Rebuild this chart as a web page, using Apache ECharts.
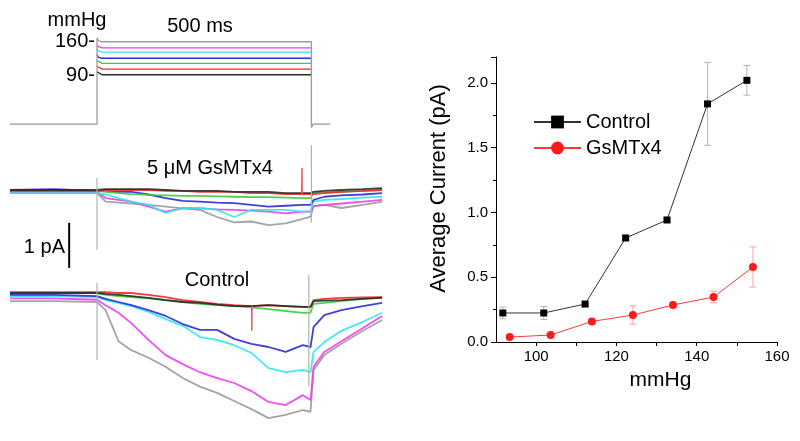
<!DOCTYPE html>
<html>
<head>
<meta charset="utf-8">
<script src="https://cdn.jsdelivr.net/npm/echarts@6/dist/echarts.min.js"></script>
<style>html,body{margin:0;padding:0;background:#fff}#c{width:800px;height:441px}</style>
</head>
<body>
<div id="c"></div>
<script>
// ---------- Right chart data ----------
const ctrlX = [91.7, 101.9, 112.2, 122.3, 132.6, 142.7, 152.5];
const ctrlY = [0.224, 0.224, 0.293, 0.803, 0.942, 1.838, 2.02];
const ctrlErr = [0.045, 0.05, 0.02, 0.02, 0.02, 0.32, 0.115];
const gsX = [93.4, 103.6, 113.9, 124.1, 134.1, 144.2, 154.0];
const gsY = [0.038, 0.054, 0.159, 0.208, 0.286, 0.347, 0.579];
const gsErr = [0.01, 0.01, 0.02, 0.07, 0.02, 0.045, 0.155];
const xTicks = [100, 110, 120, 130, 140, 150, 160];
const xLabels = [100, 120, 140, 160];

// ---------- Pressure protocol (mmHg) ----------
const protoNames = ['black', 'red', 'green', 'blue', 'cyan', 'magenta', 'gray'];
const protoLevels = [90, 102, 114, 125, 138, 147, 160];
const protoOvershoot = [6, 6, 6, 7, 7, 7, 8];
const protoBaseline = -15;
const protoUndershoot = -22;

// ---------- Current traces (time ms, current pA) ----------
const tMs = [-203, -100, 0, 20, 50, 80, 120, 160, 200, 240, 280, 320, 360, 400, 440, 480, 498, 505, 530, 570, 620, 665];
const gsTraces = {
  gray:    [-0.07,-0.07,-0.07,-0.26,-0.28,-0.30,-0.33,-0.37,-0.41,-0.44,-0.60,-0.72,-0.70,-0.78,-0.74,-0.64,-0.59,-0.36,-0.33,-0.40,-0.33,-0.26],
  magenta: [-0.04,-0.04,-0.04,-0.18,-0.22,-0.26,-0.37,-0.48,-0.41,-0.41,-0.43,-0.44,-0.46,-0.48,-0.52,-0.48,-0.48,-0.36,-0.33,-0.30,-0.26,-0.22],
  cyan:    [-0.07,-0.07,-0.07,-0.10,-0.18,-0.26,-0.33,-0.51,-0.40,-0.40,-0.44,-0.60,-0.44,-0.44,-0.44,-0.48,-0.48,-0.26,-0.22,-0.20,-0.17,-0.15],
  blue:    [0.00,0.02,-0.02,-0.02,-0.04,-0.04,-0.10,-0.18,-0.24,-0.26,-0.28,-0.29,-0.33,-0.37,-0.35,-0.33,-0.33,-0.22,-0.15,-0.12,-0.10,-0.07],
  green:   [-0.02,-0.02,-0.02,-0.04,-0.07,-0.09,-0.11,-0.12,-0.13,-0.13,-0.14,-0.15,-0.16,-0.16,-0.17,-0.18,-0.18,-0.07,-0.06,-0.04,-0.02,0.00],
  red:     [-0.02,-0.02,-0.02,0.00,0.00,0.00,0.00,-0.02,-0.02,-0.04,-0.04,-0.04,-0.07,-0.07,-0.09,-0.09,-0.09,-0.09,-0.07,-0.04,-0.02,0.00],
  black:   [0.00,0.00,0.00,0.02,0.02,0.02,0.02,0.00,-0.02,-0.02,-0.02,-0.04,-0.04,-0.04,-0.07,-0.07,-0.07,-0.04,-0.02,0.00,0.02,0.04]
};
const ctrlTraces = {
  gray:    [-0.18,-0.18,-0.20,-0.38,-1.07,-1.27,-1.44,-1.64,-1.89,-2.08,-2.22,-2.40,-2.58,-2.78,-2.71,-2.60,-2.64,-1.71,-1.38,-1.13,-0.84,-0.60],
  magenta: [-0.12,-0.12,-0.15,-0.27,-0.44,-0.67,-1.04,-1.38,-1.58,-1.76,-1.89,-2.00,-2.18,-2.42,-2.49,-2.27,-2.38,-1.64,-1.31,-1.07,-0.78,-0.51],
  cyan:    [-0.07,-0.07,-0.09,-0.16,-0.22,-0.29,-0.42,-0.58,-0.73,-0.98,-1.04,-1.16,-1.33,-1.67,-1.76,-1.71,-1.76,-1.31,-1.09,-0.84,-0.64,-0.44],
  blue:    [-0.04,-0.04,-0.07,-0.13,-0.20,-0.27,-0.38,-0.51,-0.69,-0.82,-0.82,-1.02,-1.13,-1.20,-1.31,-1.16,-1.20,-0.76,-0.49,-0.38,-0.29,-0.22],
  green:   [0.00,0.00,0.00,-0.04,-0.07,-0.09,-0.12,-0.16,-0.20,-0.24,-0.27,-0.29,-0.32,-0.36,-0.40,-0.44,-0.44,-0.24,-0.22,-0.18,-0.13,-0.09],
  red:     [0.02,0.02,0.02,0.02,0.00,0.00,-0.04,-0.09,-0.16,-0.20,-0.24,-0.27,-0.29,-0.27,-0.29,-0.31,-0.31,-0.16,-0.13,-0.11,-0.10,-0.09],
  black:   [0.00,0.00,0.00,-0.02,-0.04,-0.07,-0.11,-0.16,-0.20,-0.22,-0.26,-0.29,-0.29,-0.27,-0.29,-0.31,-0.31,-0.18,-0.17,-0.16,-0.13,-0.11]
};
// stimulus artifacts [time, top, bottom]
const gsArtifacts = [[0, 0.27, -1.33], [500, 1.0, -0.73]];
const ctrlArtifacts = [[0, 0.22, -1.49], [494, 0.4, -2.08]];
// isolated spikes [time, base, tip]
const gsRedSpike = [478, -0.09, 0.49];
const ctrlRedSpike = [361, -0.29, -0.84];
// scale bar (1 pA)
const scaleBarT = -65;
const scaleBarPA = [-0.73, -1.73];

// ---------- styles ----------
const traceColor = {
  gray: '#9a9a9a', magenta: '#f03cf0', cyan: '#30e6ee', blue: '#2b2bd6',
  green: '#3ccc3c', red: '#f02a2a', black: '#2a2a2a'
};
const drawOrder = ['gray', 'magenta', 'cyan', 'blue', 'green', 'red', 'black'];
const FONT = 'Arial, "Liberation Sans", Helvetica, sans-serif';

const series = [];
// Protocol traces: colored levels only during the pulse; gray carries the full shape
protoNames.forEach((nm, i) => {
  const L = protoLevels[i];
  const pulse = [[0, L + protoOvershoot[i]], [4, L + 2], [12, L], [500, L]];
  const data = nm === 'gray'
    ? [[-203, protoBaseline], [0, protoBaseline]].concat(pulse, [[500, protoUndershoot], [504, protoBaseline], [544, protoBaseline]])
    : pulse;
  series.push({
    type: 'line', xAxisIndex: 0, yAxisIndex: 0, symbol: 'none', silent: true,
    z: nm === 'gray' ? 5 : 3,
    lineStyle: { color: traceColor[nm], width: 1.3 },
    data
  });
});

function addTraces(traces, gi) {
  drawOrder.forEach((nm) => {
    series.push({
      type: 'line', xAxisIndex: gi, yAxisIndex: gi, symbol: 'none', silent: true,
      lineStyle: { color: traceColor[nm], width: 1.8, opacity: 0.9 },
      data: tMs.map((t, k) => [t, traces[nm][k]])
    });
  });
}
addTraces(gsTraces, 1);
addTraces(ctrlTraces, 2);

function addArtifacts(arts, gi) {
  arts.forEach((a) => {
    series.push({
      type: 'line', xAxisIndex: gi, yAxisIndex: gi, symbol: 'none', silent: true, z: 4,
      lineStyle: { color: '#a8b8a8', width: 1.2 },
      data: [[a[0], a[1]], [a[0], a[2]]]
    });
  });
}
addArtifacts(gsArtifacts, 1);
addArtifacts(ctrlArtifacts, 2);

[[gsRedSpike, 1], [ctrlRedSpike, 2]].forEach(([s, gi]) => {
  series.push({
    type: 'line', xAxisIndex: gi, yAxisIndex: gi, symbol: 'none', silent: true, z: 4,
    lineStyle: { color: '#f05050', width: 1 },
    data: [[s[0] - 1, s[1]], [s[0], s[2]], [s[0] + 1, s[1]]]
  });
});

series.push({
  type: 'line', xAxisIndex: 1, yAxisIndex: 1, symbol: 'none', silent: true,
  lineStyle: { color: '#000', width: 2 },
  data: [[scaleBarT, scaleBarPA[0]], [scaleBarT, scaleBarPA[1]]]
});

// Error bars
function errRender(color) {
  return function (params, api) {
    const x = api.value(0), lo = api.value(1), hi = api.value(2);
    const p1 = api.coord([x, hi]), p2 = api.coord([x, lo]);
    const w = 3.5;
    const st = { stroke: color, lineWidth: 1 };
    return {
      type: 'group', children: [
        { type: 'line', shape: { x1: p1[0], y1: p1[1], x2: p2[0], y2: p2[1] }, style: st },
        { type: 'line', shape: { x1: p1[0] - w, y1: p1[1], x2: p1[0] + w, y2: p1[1] }, style: st },
        { type: 'line', shape: { x1: p2[0] - w, y1: p2[1], x2: p2[0] + w, y2: p2[1] }, style: st }
      ]
    };
  };
}
series.push({
  type: 'custom', name: 'ctrlErr', xAxisIndex: 3, yAxisIndex: 3, z: 1, silent: true,
  renderItem: errRender('#b4b4b4'), encode: { x: 0, y: [1, 2] },
  data: ctrlX.map((x, i) => [x, ctrlY[i] - ctrlErr[i], ctrlY[i] + ctrlErr[i]])
});
series.push({
  type: 'custom', name: 'gsErr', xAxisIndex: 3, yAxisIndex: 3, z: 1, silent: true,
  renderItem: errRender('#ffa0a0'), encode: { x: 0, y: [1, 2] },
  data: gsX.map((x, i) => [x, gsY[i] - gsErr[i], gsY[i] + gsErr[i]])
});
series.push({
  type: 'line', name: 'Control', xAxisIndex: 3, yAxisIndex: 3, z: 3,
  symbol: 'rect', symbolSize: 7, showAllSymbol: true,
  lineStyle: { color: '#333', width: 1 }, itemStyle: { color: '#000' },
  data: ctrlX.map((x, i) => [x, ctrlY[i]])
});
series.push({
  type: 'line', name: 'GsMTx4', xAxisIndex: 3, yAxisIndex: 3, z: 3,
  symbol: 'circle', symbolSize: 8, showAllSymbol: true,
  lineStyle: { color: '#ff3a3a', width: 1 }, itemStyle: { color: '#ff1a1a' },
  data: gsX.map((x, i) => [x, gsY[i]])
});

const hiddenX = (min, max, gi) => ({ type: 'value', gridIndex: gi, min, max, show: false });
const hiddenY = (min, max, gi) => ({ type: 'value', gridIndex: gi, min, max, show: false });

const txt = (text, x, y, align) => ({
  type: 'text', x, y,
  style: { text, font: '20px ' + FONT, fill: '#000', align: align || 'center', verticalAlign: 'middle' }
});

const option = {
  animation: false,
  backgroundColor: '#fff',
  grid: [
    { left: 10, width: 373, top: 30, height: 105 },
    { left: 10, width: 373, top: 145, height: 126 },
    { left: 10, width: 373, top: 248, height: 189 },
    { left: 496, right: 23, top: 57, bottom: 99 }
  ],
  xAxis: [
    hiddenX(-203, 667, 0), hiddenX(-203, 667, 1), hiddenX(-203, 667, 2),
    {
      type: 'value', gridIndex: 3, min: 90, max: 160,
      name: 'mmHg', nameLocation: 'middle', nameGap: 28,
      nameTextStyle: { fontSize: 21, fontFamily: FONT, color: '#000', padding: [0, 0, 0, 48] },
      axisLine: { lineStyle: { color: '#000', width: 1 } },
      axisTick: { show: true, length: 4, customValues: xTicks, lineStyle: { color: '#000' } },
      axisLabel: { customValues: xLabels, fontSize: 15, fontFamily: FONT, color: '#000', margin: 7 },
      splitLine: { show: false }
    }
  ],
  yAxis: [
    hiddenY(-38, 185, 0), hiddenY(-1.8, 1.0, 1), hiddenY(-3.2, 1.0, 2),
    {
      type: 'value', gridIndex: 3, min: 0, max: 2.2, interval: 0.5,
      name: 'Average Current (pA)', nameLocation: 'middle', nameGap: 46, nameRotate: 90,
      nameTextStyle: { fontSize: 22, fontFamily: FONT, color: '#000', padding: [0, 0, 0, 22] },
      axisLine: { show: true, lineStyle: { color: '#000', width: 1 } },
      axisTick: { show: true, length: 5, lineStyle: { color: '#000' } },
      minorTick: { show: true, splitNumber: 2, length: 3, lineStyle: { color: '#000' } },
      axisLabel: {
        fontSize: 15, fontFamily: FONT, color: '#000', margin: 8, showMaxLabel: false,
        formatter: (v) => (Math.abs(v * 2 - Math.round(v * 2)) < 1e-6 ? v.toFixed(1) : '')
      },
      splitLine: { show: false }, minorSplitLine: { show: false }
    }
  ],
  legend: {
    data: ['Control', 'GsMTx4'], orient: 'vertical', left: 528, top: 107,
    itemWidth: 47, itemHeight: 16, itemGap: 6,
    textStyle: { fontSize: 20, fontFamily: FONT, color: '#000', lineHeight: 20 }
  },
  graphic: [
    txt('mmHg', 77, 20),
    txt('160-', 95, 41, 'right'),
    txt('90-', 95, 75, 'right'),
    txt('500 ms', 200, 26),
    txt('5 \u03bcM GsMTx4', 210, 168),
    txt('1 pA', 65, 247, 'right'),
    txt('Control', 217, 280)
  ],
  series
};

const chart = echarts.init(document.getElementById('c'), null, { renderer: 'canvas' });
chart.setOption(option);
</script>
</body>
</html>
